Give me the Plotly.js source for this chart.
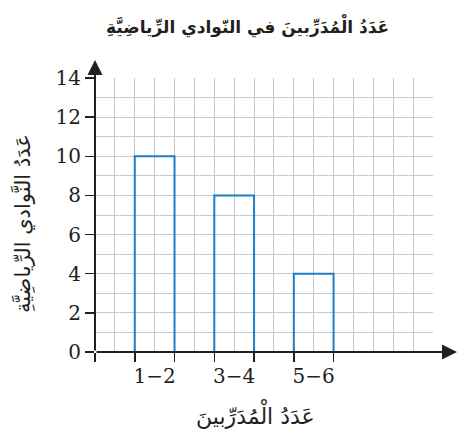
<!DOCTYPE html>
<html><head><meta charset="utf-8">
<script src="https://cdn.plot.ly/plotly-3.0.1.min.js"></script>
<style>body{margin:0;background:#fff}#c{width:458px;height:439px}</style>
</head><body><div id="c"></div>
<script>
const categories = ["1−2", "3−4", "5−6"];
const categoryCenters = [3, 7, 11];
const values = [10, 8, 4];
const xTickEdges = [0, 2, 4, 6, 8, 10, 12];
const yTicks = [0, 2, 4, 6, 8, 10, 12, 14];
const titleText = "عَدَدُ الْمُدَرِّبينَ في النّوادي الرِّياضِيَّةِ";
const xTitle = "عَدَدُ الْمُدَرِّبينَ";
const yTitle = "عَدَدُ النَّوادي الرِّياضِيَّةِ";

const gridColor = "#c9c9c9";
const axisColor = "#231f20";
const serif = "DejaVu Serif";

const L = 95, R = 25, T = 78, B = 87;
const W = 458, H = 439;
const pw = W - L - R, ph = H - T - B;

const data = [
  {type: "bar", x: categoryCenters, y: values, width: 2,
   marker: {color: "rgba(0,0,0,0)", line: {color: "#1f7cc6", width: 2}},
   hoverinfo: "skip", cliponaxis: false},
  {type: "scatter", x: [0], y: [0], xaxis: "x2", mode: "markers",
   marker: {opacity: 0}, hoverinfo: "skip"}
];
const px = v => (v - L) / pw, py = v => (352 - v) / ph;

const layout = {
  width: W, height: H,
  margin: {l: L, r: R, t: T, b: B},
  paper_bgcolor: "#fff", plot_bgcolor: "#fff",
  showlegend: false,
  xaxis: {range: [0, 17], tickmode: "array", tickvals: categoryCenters, ticktext: categories,
          ticks: "", showgrid: true, gridcolor: gridColor, gridwidth: 1, zeroline: false, showline: false,
          tickfont: {family: serif, size: 20, color: axisColor}, ticklabelstandoff: 10,
          minor: {dtick: 1, showgrid: true, gridcolor: gridColor, gridwidth: 1, ticks: ""},
          fixedrange: true},
  xaxis2: {overlaying: "x", matches: "x", range: [0, 17], tickmode: "array", tickvals: xTickEdges,
           ticktext: xTickEdges.map(() => ""), ticks: "outside", ticklen: 9, tickwidth: 1.5, tickcolor: axisColor,
           showgrid: false, zeroline: false, showline: false, side: "bottom", anchor: "y"},
  yaxis: {range: [0, 14], tickmode: "array", tickvals: yTicks, ticks: "outside", ticklen: 9, tickwidth: 1.5,
          tickcolor: axisColor, showgrid: true, gridcolor: gridColor, gridwidth: 1, zeroline: false, showline: false,
          tickfont: {family: serif, size: 20, color: axisColor},
          minor: {dtick: 1, showgrid: true, gridcolor: gridColor, gridwidth: 1, ticks: ""},
          fixedrange: true},
  annotations: [
    {xref: "paper", yref: "paper", x: (458 - L) / pw, y: 0, ax: -(458 - L), ay: 0,
     axref: "pixel", ayref: "pixel", showarrow: true, arrowhead: 2, arrowsize: 1.5, arrowwidth: 2,
     arrowcolor: axisColor, text: ""},
    {xref: "paper", yref: "paper", x: 0, y: (352 - 60) / ph, ax: 0, ay: (352 - 60),
     axref: "pixel", ayref: "pixel", showarrow: true, arrowhead: 2, arrowsize: 1.5, arrowwidth: 2,
     arrowcolor: axisColor, text: ""},
    {xref: "paper", yref: "paper", x: px(247.5), y: py(25), xanchor: "center", yanchor: "middle",
     showarrow: false, text: "<b>" + titleText + "</b>", font: {family: "DejaVu Sans", size: 17, color: axisColor}},
    {xref: "paper", yref: "paper", x: px(255), y: py(413), xanchor: "center", yanchor: "middle",
     showarrow: false, text: xTitle, font: {family: "DejaVu Sans", size: 22, color: axisColor}},
    {xref: "paper", yref: "paper", x: px(22), y: py(224), xanchor: "center", yanchor: "middle",
     textangle: -90, showarrow: false, text: yTitle, font: {family: "DejaVu Sans", size: 21, color: axisColor}}
  ]
};

Plotly.newPlot("c", data, layout, {displayModeBar: false, staticPlot: true});
</script></body></html>
